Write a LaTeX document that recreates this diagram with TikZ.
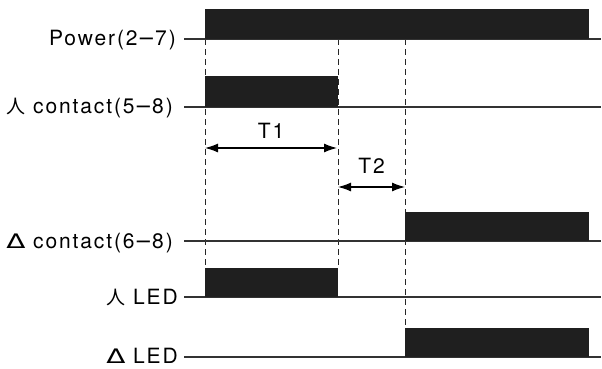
\documentclass[tikz,border=0pt]{standalone}
\usepackage{fontspec}
\setmainfont{TeX Gyre Heros}[LetterSpace=9]
\newfontfamily\cjk{Noto Sans CJK KR}
\newfontfamily\dvs{DejaVu Sans}
\usetikzlibrary{arrows.meta}

% star and delta connection marks, long minus
\newcommand{\starmark}{{\cjk\fontsize{19}{19}\selectfont 人}}
\newcommand{\deltamark}{\scalebox{1.4}[1]{\dvs\fontsize{20}{20}\selectfont Δ}}
\newcommand{\mn}{{\dvs −}}

\tikzset{
  lbl/.style={anchor=base east, inner sep=0pt, font=\fontsize{21}{24}\selectfont},
  sig/.style={line width=1.3pt, black!80},
  bar/.style={fill=black!88},
  guide/.style={line width=1pt, dash pattern=on 6pt off 4pt, black!85},
  span/.style={{Latex[length=13pt,width=9pt]}-{Latex[length=13pt,width=9pt]}, line width=1.2pt}
}

\begin{document}
\begin{tikzpicture}[x=1pt,y=-1pt]
\useasboundingbox (0,0) rectangle (602,369);

% guides
\draw[guide] (205,39) -- (205,268);
\draw[guide] (338,39) -- (338,268);
\draw[guide] (405,39) -- (405,329);

% Power
\node[lbl] (pwr) at (176,46) {Power(2\mn 7)};
\draw[sig] (184,39) -- (601,39);
\fill[bar] (205,9) rectangle (589,39);

% star contact
\node[lbl] (ystar) at (173,113) {\starmark\ contact(5\mn 8)};
\draw[sig] (184,107) -- (601,107);
\fill[bar] (205,76) rectangle (338,107);

% times
\coordinate (t1a) at (205,148);
\coordinate (t1b) at (337,148);
\coordinate (t2a) at (338,187);
\coordinate (t2b) at (405,187);
\draw[span] (t1a) -- (t1b) node[midway, above=9pt, lbl, anchor=south] (tone) {T1};
\draw[span] (t2a) -- (t2b) node[midway, above=13pt, lbl, anchor=south] (ttwo) {T2};

% delta contact
\node[lbl] (ydelta) at (173,248) {\deltamark\ contact(6\mn 8)};
\draw[sig] (184,241) -- (601,241);
\fill[bar] (405,212) rectangle (589,241);

% star LED
\node[lbl] (lstar) at (178,304) {\starmark\ LED};
\draw[sig] (184,297) -- (601,297);
\fill[bar] (205,268) rectangle (338,297);

% delta LED
\node[lbl] (ldelta) at (178,363) {\deltamark\ LED};
\draw[sig] (184,357) -- (601,357);
\fill[bar] (405,328) rectangle (589,357);

\end{tikzpicture}
\end{document}
